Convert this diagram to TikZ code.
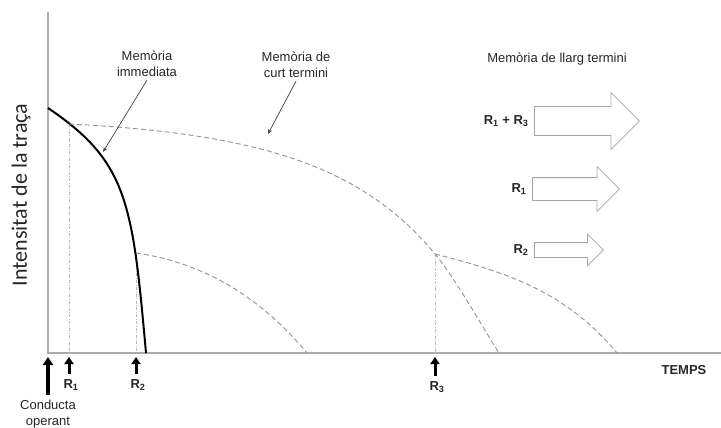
\documentclass[tikz,border=0pt]{standalone}
\usepackage{fontspec}
\setmainfont{Liberation Sans}
\newfontfamily\calibri{Carlito}
\usetikzlibrary{positioning,arrows.meta,shapes.arrows}

\tikzset{
  axis/.style={draw=gray!65, line width=1.8pt},
  trace/.style={draw=gray!85, line width=0.9pt, dash pattern=on 5pt off 3pt},
  guide/.style={draw=gray!55, line width=0.6pt, dash pattern=on 3pt off 1.5pt on 0.8pt off 1.5pt},
  pointer/.style={draw=black!75, line width=0.7pt, -{Stealth[length=5pt,width=4pt]}},
  reinf/.style={line width=3pt, -{Triangle[length=7pt,width=9pt]}, shorten <=2pt},
  lbl/.style={font=\fontsize{13}{15.5}\selectfont, align=center, text=black!85},
  rlbl/.style={font=\fontsize{13}{15}\selectfont\bfseries, text=black!85},
  ltm/.style={single arrow, draw=gray!70, line width=0.8pt, inner xsep=0pt,
    single arrow tip angle=90, anchor=tail},
}

\begin{document}
\begin{tikzpicture}[x=1pt, y=-1pt]
\useasboundingbox (0,0) rectangle (721,428);

% axes
\coordinate (o) at (48,353);
\coordinate (ytop) at (48,12);
\coordinate (xend) at (721,353);
\draw[axis] (ytop) -- (o) -- (xend);
\node[rotate=90, font=\calibri\fontsize{22}{24}\selectfont, text=black!85] (ylab) at (21,195) {Intensitat de la traça};
\node[rlbl] (temps) at (684,370) {TEMPS};

% points where the traces start
\coordinate (s1) at (69,124);
\coordinate (s2) at (136,253);
\coordinate (s3) at (435,254);
\coordinate (f1) at (69,353);
\coordinate (f2) at (136,353);
\coordinate (f3) at (435,353);

\draw[guide] (s1) -- (f1);
\draw[guide] (s2) -- (f2);
\draw[guide] (s3) -- (f3);

% traces
\draw[line width=2pt] (48,108) .. controls (128,162) and (132.5,203) .. (146,353);
\draw[trace] (s1) .. controls (269,134) and (365,170) .. (s3)
  .. controls (455,278) and (480,323) .. (499,353);
\draw[trace] (s2) .. controls (206,263) and (262,299) .. (307,353);
\draw[trace] (s3) .. controls (510,273) and (567,293) .. (617,353);

% memory labels
\node[lbl] (immed) at (147,64) {Memòria\\immediata};
\node[lbl] (curt) at (296,65) {Memòria de\\curt termini};
\node[lbl] (llarg) at (557,59) {Memòria de llarg termini};
\coordinate (pimm) at (103,152);
\coordinate (pcurt) at (268,134);
\draw[pointer] (immed.south) -- (pimm);
\draw[pointer] (curt.south) -- (pcurt);

% reinforcements on the time axis
\coordinate (t0) at (48,357);
\coordinate (t1) at (69,357);
\coordinate (t2) at (136,357);
\coordinate (t3) at (435,357);
\node[lbl] (cond) at (48,414) {Conducta\\operant};
\node[rlbl] (r1) at (71,385) {R\textsubscript{1}};
\node[rlbl] (r2) at (138,385) {R\textsubscript{2}};
\node[rlbl] (r3) at (437,387) {R\textsubscript{3}};
\draw[reinf, line width=3.6pt, -{Triangle[length=8pt,width=10pt]}] (cond.north) -- (t0);
\draw[reinf] (t1 |- r1.north) -- (t1);
\draw[reinf] (t2 |- r2.north) -- (t2);
\draw[reinf] (t3 |- r3.north) -- (t3);

% long term memory
\node[ltm, minimum height=105pt, inner ysep=14pt, single arrow head extend=14pt] (b13) at (534,121) {};
\node[ltm, minimum height=87pt, inner ysep=11pt, single arrow head extend=11pt] (b1) at (532,189) {};
\node[ltm, minimum height=69pt, inner ysep=7pt, single arrow head extend=8.5pt] (b2) at (534,250) {};
\node[rlbl, left=2pt of b13.tail] (l13) {R\textsubscript{1} + R\textsubscript{3}};
\node[rlbl, left=2pt of b1.tail] (l1) {R\textsubscript{1}};
\node[rlbl, left=2pt of b2.tail] (l2) {R\textsubscript{2}};
\end{tikzpicture}
\end{document}
